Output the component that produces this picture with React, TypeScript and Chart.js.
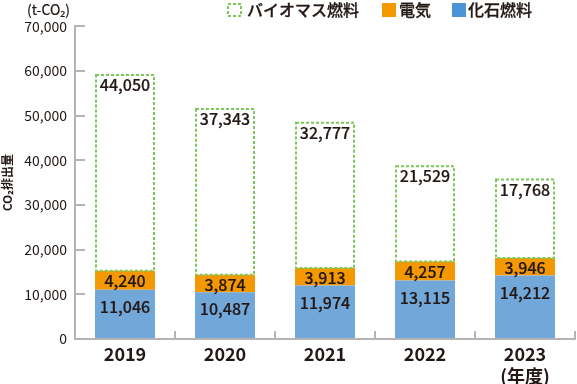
import React, { useEffect, useRef } from 'react';
import { Chart, registerables } from 'chart.js';

Chart.register(...registerables);

const categories = ['2019', '2020', '2021', '2022', '2023'];
const yearSuffix = '(年度)';
const fossil = [11046, 10487, 11974, 13115, 14212];
const electricity = [4240, 3874, 3913, 4257, 3946];
const biomass = [44050, 37343, 32777, 21529, 17768];
const seriesNames = ['バイオマス燃料', '電気', '化石燃料'];
const yMax = 70000;
const yStep = 10000;
const unitLabel = '(t-CO₂)';
const yTitle = 'CO₂排出量';

const FONT = '"Noto Sans CJK JP", "Noto Sans", sans-serif';
const TEXT = '#231815';
const BLUE = '#72a7d9';
const BLUE_LEGEND = '#4a95d6';
const ORANGE = '#f39800';
const GREEN = '#7cc85a';
const AXIS = '#b4b4b4';

const fmt = (v: number) => v.toLocaleString('en-US');

const medText = (ctx: any, s: string, x: number, y: number) => {
  ctx.fillText(s, x, y);
  ctx.strokeText(s, x, y);
};

const overlayPlugin = {
  id: 'overlay',
  afterDatasetsDraw(chart: any) {
    const ctx = chart.ctx;
    ctx.save();
    // dashed biomass boxes
    const bioMeta = chart.getDatasetMeta(2);
    ctx.strokeStyle = GREEN;
    ctx.lineWidth = 2;
    ctx.setLineDash([3, 2]);
    bioMeta.data.forEach((el: any) => {
      const p = el.getProps(['x', 'y', 'base', 'width'], true);
      const left = p.x - p.width / 2 + 1;
      ctx.strokeRect(left, p.y + 1, p.width - 2, p.base - p.y - 1);
    });
    ctx.setLineDash([]);
    // value labels
    ctx.fillStyle = TEXT;
    ctx.strokeStyle = TEXT;
    ctx.lineWidth = 0.2;
    ctx.font = `500 16px ${FONT}`;
    ctx.textAlign = 'center';
    ctx.textBaseline = 'middle';
    const fMeta = chart.getDatasetMeta(0);
    fMeta.data.forEach((el: any, i: number) => {
      const p = el.getProps(['x', 'y', 'base'], true);
      medText(ctx, fmt(fossil[i]), p.x, p.y + 17);
    });
    const eMeta = chart.getDatasetMeta(1);
    eMeta.data.forEach((el: any, i: number) => {
      const p = el.getProps(['x', 'y', 'base'], true);
      medText(ctx, fmt(electricity[i]), p.x, (p.y + p.base) / 2 + 1);
    });
    bioMeta.data.forEach((el: any, i: number) => {
      const p = el.getProps(['x', 'y', 'base'], true);
      medText(ctx, fmt(biomass[i]), p.x, p.y + 11);
    });
    ctx.restore();
  },
  afterDraw(chart: any) {
    const ctx = chart.ctx;
    ctx.save();
    ctx.fillStyle = TEXT;
    ctx.strokeStyle = TEXT;
    ctx.lineWidth = 0.2;
    ctx.textBaseline = 'middle';
    ctx.textAlign = 'left';
    ctx.font = `14px ${FONT}`;
    medText(ctx, unitLabel, 27, 10);
    // legend
    ctx.font = `500 16px ${FONT}`;
    // biomass
    ctx.strokeStyle = GREEN;
    ctx.lineWidth = 2;
    ctx.setLineDash([3, 2]);
    ctx.strokeRect(228, 4, 13, 12);
    ctx.setLineDash([]);
    ctx.strokeStyle = TEXT;
    ctx.lineWidth = 0.3;
    ctx.fillStyle = TEXT;
    medText(ctx, seriesNames[0], 247, 10);
    ctx.fillStyle = ORANGE;
    ctx.fillRect(382, 3, 14, 14);
    ctx.fillStyle = TEXT;
    medText(ctx, seriesNames[1], 399, 10);
    ctx.fillStyle = BLUE_LEGEND;
    ctx.fillRect(452, 3, 14, 14);
    ctx.fillStyle = TEXT;
    medText(ctx, seriesNames[2], 468, 10);
    ctx.restore();
  },
};

export default function App() {
  const ref = useRef<HTMLCanvasElement | null>(null);
  useEffect(() => {
    if (!ref.current) return;
    const labels: any[] = categories.map((c, i) =>
      i === categories.length - 1 ? [c, yearSuffix] : c
    );
    const chart = new Chart(ref.current, {
      type: 'bar',
      data: {
        labels,
        datasets: [
          { label: seriesNames[2], data: fossil, backgroundColor: BLUE, borderWidth: 0 },
          { label: seriesNames[1], data: electricity, backgroundColor: ORANGE, borderWidth: 0 },
          { label: seriesNames[0], data: biomass, backgroundColor: 'rgba(255,255,255,0)', borderWidth: 0 },
        ],
      },
      options: {
        responsive: false,
        animation: false,
        devicePixelRatio: 1,
        layout: { padding: { top: 25, right: 2, bottom: 0, left: 0 } },
        datasets: { bar: { categoryPercentage: 1, barPercentage: 0.6 } },
        plugins: { legend: { display: false }, tooltip: { enabled: false } },
        scales: {
          x: {
            stacked: true,
            offset: true,
            afterFit: (s: any) => { s.height = 45; },
            grid: {
              offset: true,
              drawOnChartArea: false,
              drawTicks: true,
              tickLength: -8,
              color: AXIS,
              lineWidth: 2,
            },
            border: { display: true, color: AXIS, width: 2 },
            ticks: {
              color: TEXT,
              padding: 12,
              maxRotation: 0,
              font: { family: FONT, size: 18, weight: 'bold', lineHeight: 1.22 },
            },
          },
          y: {
            stacked: true,
            min: 0,
            max: yMax,
            afterFit: (s: any) => { s.width = 75; },
            grid: {
              drawOnChartArea: false,
              drawTicks: true,
              tickLength: -10,
              color: AXIS,
              lineWidth: 2,
            },
            border: { display: true, color: AXIS, width: 2 },
            ticks: {
              stepSize: yStep,
              color: TEXT,
              padding: 18,
              font: { family: FONT, size: 14 },
              callback: (v: any) => fmt(Number(v)),
            },
            title: {
              display: true,
              text: yTitle,
              color: TEXT,
              font: { family: FONT, size: 12, weight: 'bold' },
              padding: { top: 0, bottom: 0 },
            },
          },
        },
      },
      plugins: [overlayPlugin],
    } as any);
    return () => chart.destroy();
  }, []);
  return (
    <div style={{ position: 'absolute', left: 0, top: 0, width: 577, height: 384, background: '#fff' }}>
      <canvas ref={ref} width={577} height={384} style={{ display: 'block' }} />
    </div>
  );
}
